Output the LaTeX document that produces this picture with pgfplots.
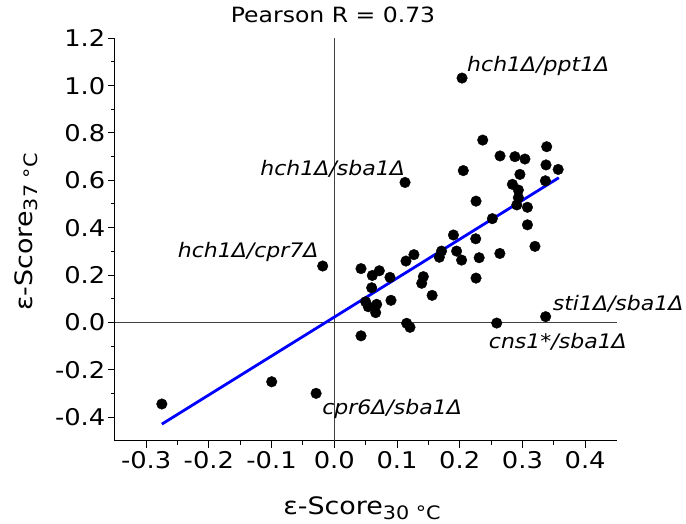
\documentclass[border=0pt]{standalone}
\usepackage{fontspec}
\setmainfont{DejaVu Sans}[FakeStretch=1.12]
\newfontfamily\labfont{DejaVu Sans}[FakeStretch=1.1]
\usepackage{pgfplots}
\pgfplotsset{compat=1.18}
\usepackage{pgfplotstable}

\pgfplotstableread{
x y
-0.275 -0.345
-0.0998 -0.251
-0.029 -0.300
-0.0185 0.238
0.2037 1.032
0.2367 0.770
0.3387 0.742
0.2643 0.703
0.288 0.700
0.304 0.690
0.3376 0.665
0.357 0.646
0.2057 0.641
0.1128 0.591
0.296 0.625
0.3366 0.598
0.284 0.583
0.2935 0.559
0.2935 0.527
0.291 0.496
0.308 0.486
0.226 0.512
0.252 0.438
0.308 0.412
0.190 0.369
0.2255 0.353
0.320 0.321
0.171 0.301
0.195 0.301
0.1675 0.275
0.203 0.263
0.231 0.273
0.264 0.291
0.127 0.286
0.1143 0.259
0.0426 0.227
0.0718 0.218
0.0606 0.198
0.0888 0.190
0.142 0.193
0.1394 0.165
0.226 0.187
0.0596 0.146
0.156 0.114
0.0904 0.093
0.050 0.087
0.0676 0.076
0.0542 0.066
0.066 0.041
0.1154 -0.004
0.1207 -0.021
0.259 -0.003
0.337 0.024
0.0426 -0.057
}\pts

\begin{document}
\begin{tikzpicture}
\begin{axis}[
  at={(0,0)}, anchor=south west,
  scale only axis, width=501.7bp, height=402.4bp,
  xmin=-0.35, xmax=0.45, ymin=-0.5, ymax=1.2,
  axis x line*=bottom, axis y line*=left,
  axis line style={-, black, line width=1bp},
  xtick={-0.3,-0.2,-0.1,0,0.1,0.2,0.3,0.4},
  ytick={-0.4,-0.2,0,0.2,0.4,0.6,0.8,1.0,1.2},
  minor x tick num=1, minor y tick num=1,
  tick align=outside,
  major tick length=7bp, minor tick length=4bp,
  every tick/.style={black, line width=1bp},
  /pgf/number format/fixed, /pgf/number format/fixed zerofill,
  /pgf/number format/precision=1, /pgf/number format/assume math mode=true,
  tick label style={font=\fontsize{23bp}{26bp}\selectfont, black},
  yticklabel style={xshift=1bp},
  clip=false,
  title={Pearson R = 0.73},
  title style={at={(axis description cs:0.435,1.025)}, anchor=base, font=\fontsize{21bp}{24bp}\selectfont, inner sep=0pt},
  xlabel={ε-Score\raisebox{-5bp}{\fontsize{18.5bp}{21bp}\selectfont 30 °C}},
  xlabel style={at={(axis description cs:0.4927,-0.1828)}, anchor=base, font=\fontsize{24bp}{27bp}\selectfont, inner sep=0pt},
  ylabel={ε-Score\raisebox{-5bp}{\fontsize{18.5bp}{21bp}\selectfont 37 °C}},
  ylabel style={at={(axis description cs:-0.1637,0.5187)}, anchor=base, rotate=0, font=\fontsize{24bp}{27bp}\selectfont, inner sep=0pt},
]
\addplot[draw=black!75, line width=0.8bp] coordinates {(0,-0.5) (0,1.2)};
\addplot[draw=black!75, line width=0.8bp] coordinates {(-0.35,0) (0.45,0)};
\addplot[only marks, mark=*, mark size=5.3bp, black, mark options={fill=black, draw=black}] table[x=x,y=y] {\pts};
\addplot[blue, line width=2.8bp] coordinates {(-0.275,-0.43) (0.358,0.611)};
\begin{scope}[font=\labfont\itshape\fontsize{20bp}{23bp}\selectfont]
\node[anchor=base west, inner sep=0pt] at (axis cs:0.2037,1.032) [xshift=5bp, yshift=7bp] {hch1Δ/ppt1Δ};
\node[anchor=base east, inner sep=0pt] at (axis cs:0.1128,0.591) [xshift=0bp, yshift=7bp] {hch1Δ/sba1Δ};
\node[anchor=base east, inner sep=0pt] at (axis cs:-0.0185,0.238) [xshift=-4bp, yshift=8.7bp] {hch1Δ/cpr7Δ};
\node[anchor=base west, inner sep=0pt] at (axis cs:-0.029,-0.300) [xshift=6bp, yshift=-21bp] {cpr6Δ/sba1Δ};
\node[anchor=base west, inner sep=0pt] at (axis cs:0.337,0.024) [xshift=7bp, yshift=6bp] {sti1Δ/sba1Δ};
\node[anchor=base west, inner sep=0pt] at (axis cs:0.259,-0.003) [xshift=-8bp, yshift=-25.5bp] {cns1*/sba1Δ};
\end{scope}
\end{axis}
\pgfresetboundingbox
\path (-114.8bp,-83.3bp) rectangle (571.2bp,440.7bp);
\end{tikzpicture}
\end{document}
